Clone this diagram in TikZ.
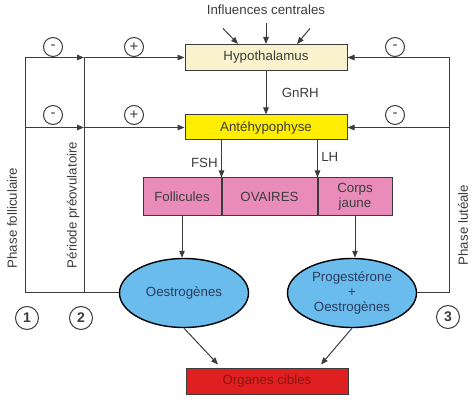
\documentclass[tikz,border=0pt]{standalone}
\usepackage{fontspec}
\setmainfont{Liberation Sans}
\usetikzlibrary{arrows.meta,shapes.geometric}
\definecolor{hyline}{RGB}{60,60,60}
\definecolor{hypale}{RGB}{250,242,205}
\definecolor{hyyel}{RGB}{255,238,0}
\definecolor{ovpink}{RGB}{234,140,186}
\definecolor{hormblue}{RGB}{105,188,236}
\definecolor{hormtxt}{RGB}{45,60,95}
\definecolor{cibred}{RGB}{224,32,32}
\definecolor{cibtxt}{RGB}{140,20,20}
\tikzset{
  txt/.style={font=\fontsize{13.3}{15}\selectfont, text=hyline},
  box/.style={txt, draw=hyline, line width=1pt, minimum width=162pt, inner sep=0pt},
  ovbox/.style={txt, draw=hyline, line width=1pt, fill=ovpink, minimum height=38pt,
                inner sep=0pt, align=center},
  horm/.style={txt, ellipse, draw=black, line width=1.4pt, fill=hormblue, text=hormtxt,
               minimum width=129pt, minimum height=69pt, inner sep=0pt, align=center},
  sgn/.style={txt, circle, draw=hyline, line width=1pt, minimum size=19pt, inner sep=0pt,
              font=\fontsize{15}{15}\selectfont},
  num/.style={sgn, minimum size=23pt, font=\fontsize{14}{15}\selectfont\bfseries},
  vlab/.style={txt, rotate=90},
  ln/.style={draw=hyline, line width=1pt},
  arr/.style={ln, -{Triangle[length=7pt,width=5.5pt]}}
}
\begin{document}
\begin{tikzpicture}[x=1pt,y=-1pt]
  \useasboundingbox (0,0) rectangle (474,403);
  % axe hypothalamo-hypophysaire
  \node[txt] (infl) at (266,10) {Influences centrales};
  \node[box, fill=hypale, minimum height=26pt] (hyp) at (266,57.5) {Hypothalamus};
  \node[box, fill=hyyel, minimum height=25pt] (ant) at (266,127.5) {Antéhypophyse};
  \draw[arr] ([xshift=-43pt,yshift=-10pt]infl.south) -- ([xshift=-28pt]hyp.north);
  \draw[arr] ([yshift=-5pt]infl.south) -- (hyp.north);
  \draw[arr] ([xshift=44pt,yshift=-10pt]infl.south) -- ([xshift=31pt]hyp.north);
  \draw[arr] (hyp) -- node[txt, right=12pt] {GnRH} (ant);
  % ovaires
  \node[ovbox, minimum width=78pt] (fol) at (182,197) {Follicules};
  \node[ovbox, minimum width=95pt, anchor=west] (ova) at (fol.east) {OVAIRES};
  \node[ovbox, minimum width=74pt, anchor=west] (cj) at (ova.east) {Corps\\jaune};
  \draw[arr] (fol.north east |- ant.south) -- node[txt, left, pos=0.6] {FSH} (fol.north east);
  \draw[arr] (cj.north west |- ant.south) -- node[txt, right, pos=0.45] {LH} (cj.north west);
  % hormones
  \node[horm] (oe) at (184,293) {Oestrogènes};
  \node[horm] (pe) at (352,293) {Progestérone\\+\\Oestrogènes};
  \draw[arr] (fol) -- (fol |- oe.north);
  \draw[arr] (cj) -- (cj |- pe.north);
  \node[box, fill=cibred, text=cibtxt, minimum height=26pt] (org) at (267,381) {Organes cibles};
  \draw[arr] (oe.south) -- ([xshift=-49pt,yshift=3pt]org.north);
  \draw[arr] (pe.south) -- ([xshift=54pt,yshift=3pt]org.north);
  % retrocontroles
  \coordinate (p1) at (25,293);
  \coordinate (p2) at (84,293);
  \coordinate (p3) at (449,293);
  \draw[ln] (oe.west) -- (p1) -- (p1 |- hyp.west);
  \draw[ln] (p2) -- (p2 |- hyp.west);
  \draw[arr] (p1 |- hyp.west) -- (p2 |- hyp.west);
  \draw[arr] (p2 |- hyp.west) -- (hyp.west);
  \draw[arr] (p1 |- ant.west) -- (p2 |- ant.west);
  \draw[arr] (p2 |- ant.west) -- (ant.west);
  \draw[ln] (pe.east) -- (p3) -- (p3 |- hyp.east);
  \draw[arr] (p3 |- hyp.east) -- (hyp.east);
  \draw[arr] (p3 |- ant.east) -- (ant.east);
  \node[sgn] (m1) at (53,47) {-};
  \node[sgn] (m2) at (53,115) {-};
  \node[sgn] (a1) at (134,47) {+};
  \node[sgn] (a2) at (134,115) {+};
  \node[sgn] (m3) at (395,47) {-};
  \node[sgn] (m4) at (395,115) {-};
  % phases
  \node[vlab] (ph1) at (12,218) {Phase folliculaire};
  \node[vlab] (ph2) at (73,205) {Période préovulatoire};
  \node[vlab] (ph3) at (463,225) {Phase lutéale};
  \node[num] (n1) at (27,318) {1};
  \node[num] (n2) at (81,318) {2};
  \node[num] (n3) at (448,317) {3};
\end{tikzpicture}
\end{document}
